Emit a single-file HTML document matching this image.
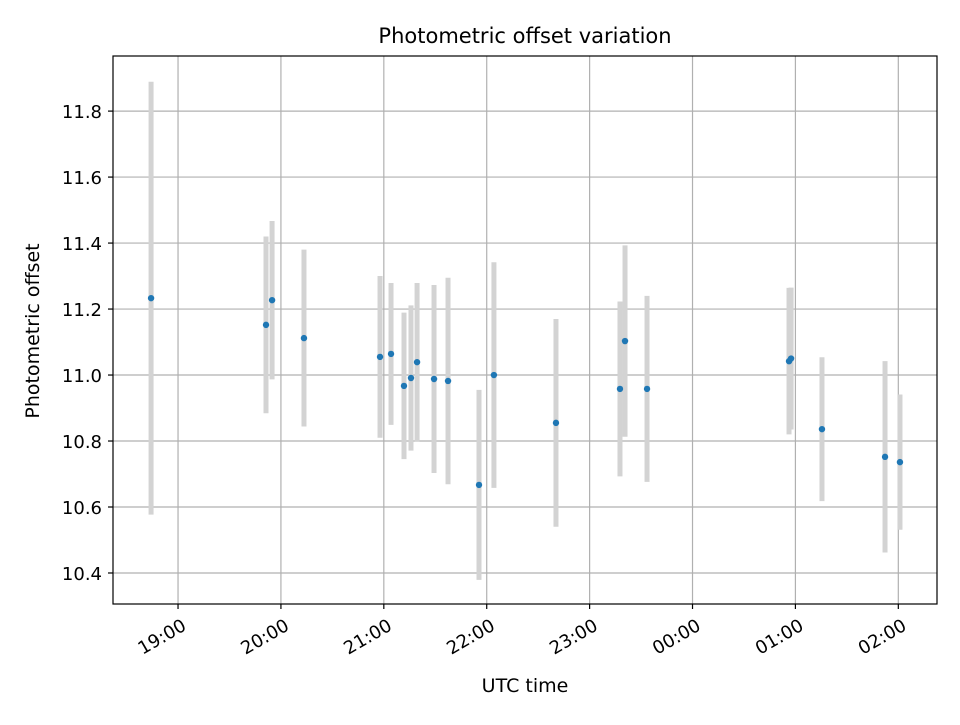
<!DOCTYPE html>
<html><head><meta charset="utf-8"><style>
body{margin:0;background:#fff;}
svg text{font-family:"DejaVu Sans","Liberation Sans",sans-serif;fill:#000;}
</style></head><body>
<svg id="chart" width="960" height="720" viewBox="0 0 960 720" xmlns="http://www.w3.org/2000/svg">
<rect width="960" height="720" fill="#fff"/>
<text x="525" y="43" font-size="21" text-anchor="middle">Photometric offset variation</text>
<text x="525" y="692" font-size="19" text-anchor="middle">UTC time</text>
<text transform="translate(39,331) rotate(-90)" font-size="19" text-anchor="middle">Photometric offset</text>
<g id="grid"></g><g id="errs"></g><g id="pts"></g><g id="axes"></g>
</svg>
<script>
// hours after 19:00 UTC
const times=[-0.262,0.855,0.914,1.224,1.963,2.07,2.196,2.264,2.323,2.488,2.624,2.925,3.07,3.673,4.295,4.344,4.558,5.938,5.958,6.258,6.871,7.016];
const offsets=[11.233,11.152,11.227,11.112,11.055,11.064,10.967,10.991,11.039,10.988,10.982,10.667,11.0,10.855,10.958,11.103,10.958,11.042,11.05,10.836,10.752,10.736];
const errors=[0.656,0.268,0.24,0.268,0.245,0.215,0.222,0.22,0.24,0.285,0.313,0.288,0.342,0.315,0.265,0.29,0.282,0.222,0.215,0.218,0.29,0.205];
const xTicks=[0,1,2,3,4,5,6,7];
const xTickLabels=["19:00","20:00","21:00","22:00","23:00","00:00","01:00","02:00"];
const yTicks=[10.4,10.6,10.8,11.0,11.2,11.4,11.6,11.8];
const yTickLabels=["10.4","10.6","10.8","11.0","11.2","11.4","11.6","11.8"];

const L=113,R=937,T=56,B=604;
const xMin=-0.632,xMax=7.376,yMin=10.306,yMax=11.967;
const xs=v=>L+(v-xMin)/(xMax-xMin)*(R-L);
const ys=v=>B-(v-yMin)/(yMax-yMin)*(B-T);
const NS="http://www.w3.org/2000/svg";
function mk(tag,parent,attrs){const e=document.createElementNS(NS,tag);for(const k in attrs)e.setAttribute(k,attrs[k]);document.getElementById(parent).appendChild(e);return e;}

xTicks.forEach((t,i)=>{
  const x=xs(t);
  const g=mk('line','grid',{x1:x,x2:x,y1:T,y2:B,stroke:'#b0b0b0','stroke-width':1.2});
  
  
  const tk=mk('line','axes',{x1:x,x2:x,y1:B,y2:B+5,stroke:'#000','stroke-width':1.2});
  
  
  const tx=mk('text','axes',{transform:`translate(${x+3},${B+14}) rotate(-30)`,'font-size':18,'text-anchor':'end','dominant-baseline':'hanging'});
  tx.textContent=xTickLabels[i];
  
  
});
yTicks.forEach((v,i)=>{
  const y=ys(v);
  const g=mk('line','grid',{x1:L,x2:R,y1:y,y2:y,stroke:'#b0b0b0','stroke-width':1.2});
  
  
  const tk=mk('line','axes',{x1:L-5,x2:L,y1:y,y2:y,stroke:'#000','stroke-width':1.2});
  
  
  const tx=mk('text','axes',{x:L-11,y:y+7,'font-size':18,'text-anchor':'end'});
  tx.textContent=yTickLabels[i];
  
  
});
times.forEach((t,i)=>{
  const x=xs(t);
  const e=mk('line','errs',{x1:x,x2:x,y1:ys(offsets[i]+errors[i]),y2:ys(offsets[i]-errors[i]),stroke:'#d3d3d3','stroke-width':5});
  
  
  const c=mk('circle','pts',{cx:x,cy:ys(offsets[i]),r:3.2,fill:'#1f77b4'});
  
  
});
const fr=mk('rect','axes',{x:L,y:T,width:R-L,height:B-T,fill:'none',stroke:'#000','stroke-width':1.2});


</script>
</body></html>
